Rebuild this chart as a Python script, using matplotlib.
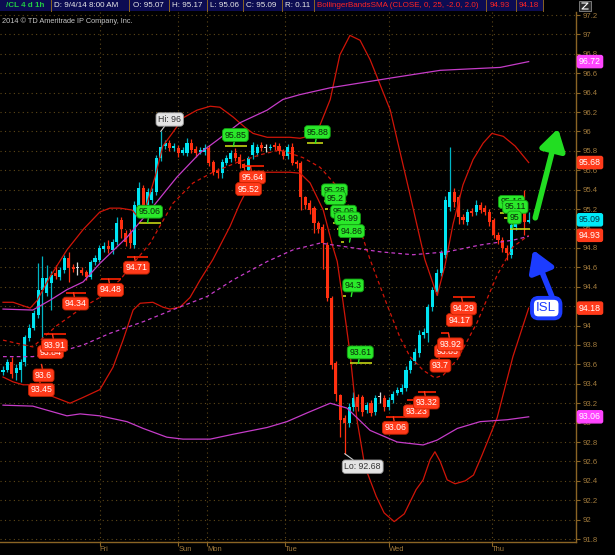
import matplotlib
matplotlib.use("Agg")
import matplotlib.pyplot as plt
from matplotlib.patches import Rectangle
from matplotlib.lines import Line2D

# /CL hourly bars, oldest first; last bar is Thu 9/4/14 8:00 AM
opens = [93.52, 93.54, 93.62, 93.51, 93.54, 93.62, 93.87, 93.98, 94.11, 94.37,
         94.34, 94.44, 94.54, 94.50, 94.57, 94.70, 94.60, 94.59, 94.57, 94.55,
         94.50, 94.65, 94.68, 94.79, 94.82, 94.78, 94.86, 95.09, 94.95, 94.95,
         94.83, 95.22, 95.42, 95.24, 95.29, 95.38, 95.73, 95.85, 95.88, 95.83,
         95.83, 95.78, 95.78, 95.88, 95.82, 95.79, 95.79, 95.83, 95.69, 95.60,
         95.57, 95.68, 95.72, 95.78, 95.74, 95.66, 95.60, 95.76, 95.78, 95.86,
         95.83, 95.83, 95.86, 95.85, 95.80, 95.75, 95.84, 95.69, 95.68, 95.32,
         95.26, 95.21, 95.06, 95.02, 94.83, 94.28, 93.61, 93.28, 93.05, 93.00,
         93.16, 93.26, 93.26, 93.13, 93.20, 93.11, 93.26, 93.25, 93.16, 93.23,
         93.31, 93.32, 93.36, 93.54, 93.63, 93.72, 93.90, 93.92, 94.19, 94.35,
         94.54, 94.73, 95.22, 95.38, 95.32, 95.12, 95.07, 95.18, 95.17, 95.24,
         95.21, 95.17, 95.09, 94.93, 94.88, 94.80, 94.73, 95.02, 95.09, 95.19,
         95.07]
highs = [93.58, 93.66, 93.68, 93.60, 93.66, 93.90, 94.02, 94.16, 94.64, 94.72,
         94.62, 94.56, 94.62, 94.60, 94.73, 94.76, 94.63, 94.65, 94.60, 94.57,
         94.68, 94.73, 94.83, 94.86, 94.88, 94.89, 95.12, 95.12, 94.98, 95.00,
         95.28, 95.48, 95.45, 95.42, 95.42, 95.76, 96.00, 95.91, 95.91, 95.88,
         95.86, 95.84, 95.93, 95.92, 95.85, 95.84, 95.87, 95.86, 95.71, 95.62,
         95.72, 95.76, 95.81, 95.83, 95.77, 95.68, 95.75, 95.89, 95.87, 95.89,
         95.87, 95.87, 95.89, 95.88, 95.82, 95.87, 95.88, 95.71, 95.70, 95.34,
         95.29, 95.23, 95.08, 95.05, 94.86, 94.30, 93.63, 93.30, 93.08, 93.20,
         93.32, 93.29, 93.28, 93.21, 93.23, 93.28, 93.32, 93.28, 93.26, 93.33,
         93.37, 93.40, 93.58, 93.66, 93.77, 93.95, 93.97, 94.22, 94.40, 94.58,
         94.78, 95.33, 95.84, 95.42, 95.35, 95.15, 95.20, 95.21, 95.29, 95.27,
         95.24, 95.20, 95.11, 94.96, 94.91, 94.83, 95.08, 95.12, 95.17, 95.40,
         95.17]
lows = [93.49, 93.52, 93.46, 93.44, 93.42, 93.58, 93.84, 93.95, 94.08, 93.85,
        94.30, 94.16, 94.48, 94.47, 94.54, 94.45, 94.55, 94.52, 94.52, 94.47,
        94.48, 94.62, 94.65, 94.76, 94.75, 94.74, 94.83, 94.90, 94.82, 94.80,
        94.80, 95.18, 95.18, 95.20, 95.26, 95.35, 95.70, 95.82, 95.80, 95.80,
        95.74, 95.76, 95.75, 95.78, 95.74, 95.77, 95.76, 95.64, 95.55, 95.52,
        95.52, 95.65, 95.69, 95.70, 95.62, 95.58, 95.56, 95.72, 95.75, 95.80,
        95.79, 95.81, 95.81, 95.77, 95.72, 95.72, 95.65, 95.62, 95.19, 95.20,
        95.15, 94.95, 94.95, 94.58, 94.25, 93.55, 93.22, 92.85, 92.68, 92.96,
        93.12, 93.12, 93.07, 93.10, 93.07, 93.08, 93.20, 93.12, 93.13, 93.20,
        93.28, 93.29, 93.33, 93.51, 93.60, 93.68, 93.87, 93.83, 94.15, 94.32,
        94.51, 94.70, 95.18, 95.22, 95.05, 95.05, 95.04, 95.13, 95.14, 95.16,
        95.14, 95.03, 94.90, 94.84, 94.76, 94.68, 94.70, 94.98, 95.06, 94.93,
        95.06]
closes = [93.54, 93.62, 93.50, 93.56, 93.62, 93.88, 93.98, 94.13, 94.37, 94.49,
          94.49, 94.52, 94.51, 94.57, 94.70, 94.59, 94.58, 94.59, 94.54, 94.50,
          94.66, 94.70, 94.80, 94.82, 94.79, 94.86, 95.06, 95.00, 94.86, 94.85,
          95.24, 95.42, 95.22, 95.38, 95.38, 95.73, 95.84, 95.88, 95.83, 95.85,
          95.78, 95.81, 95.88, 95.81, 95.78, 95.81, 95.83, 95.68, 95.58, 95.57,
          95.69, 95.73, 95.78, 95.73, 95.66, 95.62, 95.73, 95.86, 95.84, 95.83,
          95.83, 95.84, 95.84, 95.80, 95.75, 95.84, 95.68, 95.66, 95.32, 95.24,
          95.19, 95.06, 94.99, 94.85, 94.28, 93.59, 93.30, 93.03, 93.00, 93.16,
          93.25, 93.16, 93.11, 93.18, 93.10, 93.25, 93.26, 93.16, 93.23, 93.30,
          93.34, 93.36, 93.54, 93.63, 93.73, 93.90, 93.93, 94.19, 94.37, 94.54,
          94.75, 95.29, 95.38, 95.27, 95.12, 95.09, 95.17, 95.16, 95.24, 95.19,
          95.17, 95.07, 94.93, 94.88, 94.80, 94.75, 95.04, 95.09, 95.14, 95.07,
          95.09]

day_names = ["Fri", "Sun", "Mon", "Tue", "Wed", "Thu"]
day_starts = [22.1, 40, 46.6, 64.4, 88.1, 111.6]

# BollingerBandsSMA (25) - at bar positions
ub_x = [0, 2.3, 6.2, 7.8, 10.7, 14.6, 18.3, 22.1, 24.4, 26.7, 29.5, 30.6, 32.6,
        34.7, 36.5, 38.6, 41.1, 44.3, 47.3, 49.5, 52.5, 55.3, 57.1, 60.3, 65.5,
        67.8, 70.8, 72.4, 74.7, 76.9, 79.2, 81.5, 83.8, 86.1, 88.4, 92.9, 96.3,
        99.1, 100.9, 102.7, 105, 107.3, 109.6, 111.6, 114.2, 116.9, 120]
ub_y = [94.24, 94.24, 94.18, 94.26, 94.50, 94.78, 94.99, 95.17, 95.21, 95.21,
        95.19, 95.13, 95.22, 95.53, 95.85, 95.98, 96.14, 96.22, 96.26, 96.25,
        96.15, 96.04, 95.98, 95.94, 95.94, 95.93, 95.96, 96.07, 96.33, 96.79,
        96.99, 96.94, 96.74, 96.48, 96.22, 95.35, 94.68, 94.31, 94.62, 95.04,
        95.45, 95.71, 95.88, 95.98, 95.95, 95.85, 95.68]
mb_x = [0, 6.8, 12.3, 18.3, 22.1, 26.7, 30.1, 33.6, 38.8, 43.4, 47.9, 53.4,
        58.7, 63.2, 68.5, 72.4, 76.3, 80.8, 83.8, 87.7, 90.6, 92.9, 95.9, 98.6,
        100.5, 103.7, 108.2, 112.8, 116.4, 120]
mb_y = [93.85, 93.78, 94.00, 94.19, 94.29, 94.47, 94.66, 94.85, 95.26, 95.47,
        95.58, 95.68, 95.76, 95.81, 95.73, 95.63, 95.43, 95.09, 94.68, 94.21,
        93.88, 93.68, 93.54, 93.46, 93.49, 93.65, 94.03, 94.52, 94.81, 94.93]
lb_x = [0, 2.3, 4.6, 6.8, 10.7, 15.3, 18.3, 22.1, 25.1, 27.4, 29.7, 31.3, 34.2,
        36.5, 38.1, 40.4, 42.7, 45, 47.9, 51.8, 54.1, 55.7, 57.5, 59.8, 65.5,
        67.8, 70.1, 73.1, 75.3, 76.3, 77.6, 79.2, 80.8, 82.6, 85.2, 87, 89.3,
        91.6, 94.3, 95.9, 97.5, 98.6, 99.8, 101.4, 103.2, 105.5, 107.4, 109.3,
        112.8, 116.4, 120]
lb_y = [93.47, 93.42, 93.39, 93.39, 93.28, 93.20, 93.26, 93.34, 93.57, 93.85,
        94.16, 94.23, 94.24, 94.19, 94.17, 94.19, 94.29, 94.47, 94.68, 95.02,
        95.26, 95.40, 95.54, 95.58, 95.58, 95.57, 95.47, 95.19, 94.81, 94.66,
        94.25, 93.72, 93.03, 92.55, 92.24, 92.07, 91.98, 92.06, 92.31, 92.41,
        92.62, 92.70, 92.60, 92.41, 92.37, 92.40, 92.46, 92.66, 93.05, 93.68,
        94.18]

# wider band (magenta)
mu_x = [0, 6.8, 10.7, 14.6, 18.3, 22.1, 28.3, 33.6, 39.7, 45, 48.9, 54.1, 60.3,
        63.9, 67.8, 74.7, 88.4, 99.8, 113.5, 120]
mu_y = [94.17, 94.16, 94.26, 94.37, 94.45, 94.64, 94.91, 95.19, 95.53, 95.78,
        95.91, 96.09, 96.22, 96.33, 96.38, 96.45, 96.55, 96.63, 96.66, 96.72]
md_x = [0, 6.8, 13, 18.3, 24.4, 32, 39.7, 46.6, 52.5, 60.3, 66.2, 72.4, 78.5,
        86.1, 93.6, 101.4, 108.9, 116.4, 120]
md_y = [93.68, 93.68, 93.73, 93.80, 93.92, 94.04, 94.18, 94.30, 94.47, 94.66,
        94.78, 94.85, 94.81, 94.76, 94.73, 94.76, 94.83, 94.88, 94.92]
ml_x = [0, 6.8, 14.6, 17.6, 22.1, 28.3, 32, 37.4, 41.1, 47.3, 52.5, 60.3, 64.8,
        69.4, 74.7, 78.5, 83.8, 90, 95.9, 99.1, 103.7, 108.9, 115.1, 120]
ml_y = [93.18, 93.17, 93.07, 93.09, 93.07, 93.01, 92.94, 92.85, 92.83, 92.83,
        92.88, 92.95, 93.01, 93.10, 93.20, 93.15, 92.92, 92.80, 92.77, 92.82,
        92.94, 93.01, 93.03, 93.06]

# swing level labels: text (= price) and bar
red_text = ["93.45", "93.6", "93.84", "93.91", "94.34", "94.48", "94.71", "95.64",
            "95.52", "93.06", "93.23", "93.32", "93.7", "93.85", "93.92", "94.17",
            "94.29"]
red_bar = [8.9, 9.4, 11.0, 11.9, 16.7, 24.7, 30.6, 57.1, 56.2, 89.7, 94.5, 96.8,
           100.0, 101.6, 102.3, 104.3, 105.3]
green_text = ["95.06", "95.85", "95.88", "95.28", "95.2", "95.06", "94.99", "94.86",
              "94.3", "93.61", "95.16", "95.11", "95"]
green_bar = [33.6, 53.2, 71.9, 75.8, 76.0, 77.9, 78.8, 79.7, 80.1, 81.7, 116.2,
             117.1, 116.9]

# level segment extents around each label (bars)
red_seg = [(0, 0), (0, 0), (0, 0), (-2.5, 2.5), (-2.3, 2.3), (-2.3, 2.3),
           (-2.4, 2.4), (-2.4, 2.4), (0, 0), (-2.3, 2.3), (-2.3, 0), (-2.0, 2.0),
           (0, 0), (0, 0), (-2.4, -0.6), (0, 0), (-2.5, 2.5)]
green_seg = [(-2.5, 2.5), (-2.5, 2.5), (-2.5, 1.2), (-2.6, -1.8), (-2.6, -1.8),
             (-2.6, -1.8), (-2.6, -1.8), (-2.6, -1.8), (-2.6, -1.8), (-2.5, 2.5),
             (-2.8, -1.8), (-2.8, -1.8), (-1.1, 3.4)]

UP = "#00e4f2"
UP_WICK = "#00b4c4"
DOWN = "#ff3010"
DOJI = "#d8d8d8"
BAND_RED = "#d01508"
MAGENTA = "#c53cc8"
GRID = "#5e4818"
AXIS = "#8a6424"
AXIS_TXT = "#a07a3c"

plt.rcParams['font.family'] = ['Liberation Sans', 'DejaVu Sans']

W, H = 615, 555
fig = plt.figure(figsize=(W / 100, H / 100), dpi=100, facecolor="black")
ax = fig.add_axes([0, 13 / H, 576 / W, 530 / H], facecolor="black")

# candles
n = len(closes)
for i in range(n):
    o, h, l, c = opens[i], highs[i], lows[i], closes[i]
    if c > o:
        col, wcol = UP, UP_WICK
    elif c < o:
        col, wcol = DOWN, DOWN
    else:
        col, wcol = DOJI, DOJI
    ax.vlines(i, l, h, color=wcol, lw=0.9, zorder=3)
    ax.bar(i, max(abs(c - o), 0.01), bottom=min(o, c), width=0.7, color=col,
           linewidth=0, zorder=3)

# bands
ax.plot(ub_x, ub_y, color=BAND_RED, lw=0.9, zorder=4)
ax.plot(lb_x, lb_y, color=BAND_RED, lw=0.9, zorder=4)
ax.plot(mb_x, mb_y, color=BAND_RED, lw=0.9, ls=(0, (3, 2.5)), zorder=4)
ax.plot(mu_x, mu_y, color=MAGENTA, lw=0.9, zorder=4)
ax.plot(ml_x, ml_y, color=MAGENTA, lw=0.9, zorder=4)
ax.plot(md_x, md_y, color=MAGENTA, lw=0.9, ls=(0, (3, 2.5)), zorder=4)


def level_label(bar, text, seg, below, face, edge, fg, seg_col):
    price = float(text)
    if seg[1] > seg[0]:
        ax.plot([bar + seg[0], bar + seg[1]], [price, price], color=seg_col,
                lw=1.2, solid_capstyle="butt", zorder=6)
    dy = -11 if below else 11
    ax.annotate(text, xy=(bar - 0.6, price), xytext=(2, dy),
                textcoords="offset pixels", ha="center", va="center",
                fontsize=6.3, color=fg, zorder=7,
                bbox=dict(boxstyle="round,pad=0.22,rounding_size=0.35",
                          fc=face, ec=edge, lw=0.6),
                arrowprops=dict(arrowstyle="-", color=face, lw=1,
                                shrinkA=0, shrinkB=0))


for t, b, s in zip(red_text, red_bar, red_seg):
    level_label(b, t, s, True, "#ff3a1a", "#c42200", "white", "#ff2200")
for t, b, s in zip(green_text, green_bar, green_seg):
    level_label(b, t, s, False, "#2ae82a", "#13a013", "#0a2a0a", "#c4d414")

# high / low bubbles
hi_bar = highs.index(max(highs))
lo_bar = lows.index(min(lows))
gray_box = dict(boxstyle="round,pad=0.25,rounding_size=0.35", fc="#e4e4e4",
                ec="#9a9a9a", lw=0.6)
ax.annotate(f"Hi: {max(highs):g}", xy=(hi_bar, max(highs)), xytext=(9, 12),
            textcoords="offset pixels", ha="center", va="center", fontsize=6.3,
            color="#333333", bbox=gray_box, zorder=7,
            arrowprops=dict(arrowstyle="-", color="#d0d0d0", lw=0.8, shrinkA=0, shrinkB=0))
ax.annotate(f"Lo: {min(lows):g}", xy=(lo_bar, min(lows)), xytext=(18, -13),
            textcoords="offset pixels", ha="center", va="center", fontsize=6.3,
            color="#333333", bbox=gray_box, zorder=7,
            arrowprops=dict(arrowstyle="-", color="#d0d0d0", lw=0.8, shrinkA=0, shrinkB=0))

# hand-drawn arrows and ISL note
ax.annotate("", xy=(126.7, 96.03), xytext=(121.5, 95.11),
            arrowprops=dict(arrowstyle="-|>,head_width=0.55,head_length=0.9",
                            color="#22dd22", lw=4, mutation_scale=14,
                            shrinkA=0, shrinkB=0), zorder=8)
ax.annotate("", xy=(121.0, 94.78), xytext=(125.3, 94.30),
            arrowprops=dict(arrowstyle="-|>,head_width=0.55,head_length=0.9",
                            color="#1c3cff", lw=4, mutation_scale=14,
                            shrinkA=0, shrinkB=0), zorder=8)
ax.text(124.0, lb_y[-1], "ISL", ha="center", va="center", fontsize=9.5,
        color="#1c3cff", zorder=9,
        bbox=dict(boxstyle="round,pad=0.32,rounding_size=0.5", fc="white",
                  ec="#1c3cff", lw=2.8))

# price boxes on the right axis
edge_vals = [mu_y[-1], ub_y[-1], closes[-1], mb_y[-1], lb_y[-1], ml_y[-1]]
edge_face = ["#ff44ff", "#ff3a1a", "#00eaf8", "#ff3a1a", "#ff3a1a", "#ff44ff"]
edge_fg = ["white", "white", "#003a48", "white", "white", "white"]
for v, f, c in zip(edge_vals, edge_face, edge_fg):
    ax.annotate(f"{v:.2f}", xy=(1, v), xycoords=("axes fraction", "data"),
                xytext=(3, 0), textcoords="offset pixels", ha="left", va="center",
                fontsize=6.3, color=c, annotation_clip=False, zorder=10,
                bbox=dict(boxstyle="round,pad=0.18,rounding_size=0.2", fc=f, ec=f))

# axes styling
ax.set_xlim(-0.685, 130.8)
ax.set_ylim(91.770, 97.231)
yticks = [round(91.8 + 0.2 * k, 1) for k in range(28)]
ax.yaxis.tick_right()
ax.set_yticks(yticks)
ax.set_yticklabels([f"{v:g}" for v in yticks])
ax.set_xticks(day_starts)
ax.set_xticklabels(day_names, ha="left")
ax.tick_params(axis="y", color=AXIS, labelcolor=AXIS_TXT, labelsize=5.6,
               length=3, width=0.8, pad=1.5)
ax.tick_params(axis="x", color=AXIS, labelcolor=AXIS_TXT, labelsize=5.4,
               length=3, width=0.8, pad=0.2)
for side in ["top", "left"]:
    ax.spines[side].set_visible(False)
for side in ["right", "bottom"]:
    ax.spines[side].set_color(AXIS)
    ax.spines[side].set_linewidth(1)
ax.grid(True, color=GRID, ls=(0, (1, 3)), lw=0.8)
ax.set_axisbelow(True)

# header bar
fig.add_artist(Rectangle((0, 1 - 11 / H), 543 / W, 11 / H, transform=fig.transFigure,
                         facecolor="#0c0c52", edgecolor="none"))
hdr = [("/CL 4 d 1h", 6, "#22cc44", "bold"),
       ("D: 9/4/14 8:00 AM", 54, "#e8e8e8", "normal"),
       (f"O: {opens[-1]:.2f}", 133, "#e8e8e8", "normal"),
       (f"H: {highs[-1]:.2f}", 172, "#e8e8e8", "normal"),
       (f"L: {lows[-1]:.2f}", 210, "#e8e8e8", "normal"),
       (f"C: {closes[-1]:.2f}", 246, "#e8e8e8", "normal"),
       (f"R: {highs[-1] - lows[-1]:.2f}", 285, "#e8e8e8", "normal"),
       ("BollingerBandsSMA (CLOSE, 0, 25, -2.0, 2.0)", 317, "#ff2424", "normal"),
       (f"{mb_y[-1]:.2f}", 490, "#ff2424", "normal"),
       (f"{lb_y[-1]:.2f}", 519, "#ff2424", "normal")]
for txt, x, c, w in hdr:
    fig.text(x / W, 1 - 5.5 / H, txt, color=c, fontsize=5.8, fontweight=w,
             ha="left", va="center")
for x in [51, 129, 169, 207, 243, 282, 314, 486, 516, 543]:
    fig.add_artist(Line2D([x / W, x / W], [1 - 11 / H, 1], transform=fig.transFigure,
                          color="#8a6424", lw=0.7))
fig.add_artist(Rectangle((579 / W, 1 - 11 / H), 12 / W, 10 / H, transform=fig.transFigure,
                         facecolor="#2a2a2a", edgecolor="#888888", lw=0.6))
fig.add_artist(Line2D([582 / W, 588 / W, 582 / W, 588 / W],
                      [1 - 3 / H, 1 - 3 / H, 1 - 9 / H, 1 - 9 / H],
                      transform=fig.transFigure, color="white", lw=0.8))
fig.text(2 / W, 1 - 21 / H, "2014 \u00a9 TD Ameritrade IP Company, Inc.",
         color="#c4c4c4", fontsize=5.3, ha="left", va="center")

fig.savefig("out.png", dpi=100, facecolor="black")
